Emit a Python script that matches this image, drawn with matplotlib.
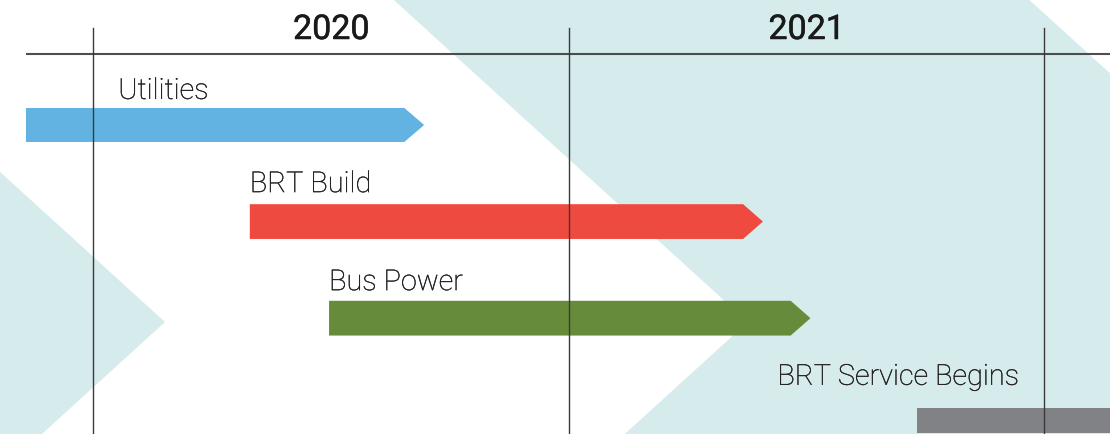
import matplotlib
matplotlib.use("Agg")
import matplotlib.pyplot as plt
import matplotlib.patheffects as pe
from matplotlib.patches import Polygon

# Timeline data (months counted from Jan 2020)
tasks = ["Utilities", "BRT Build", "Bus Power", "BRT Service Begins"]
task_start = [-1.7, 3.95, 5.95, 20.8]
task_end = [8.35, 16.9, 18.1, None]  # None = continues past the chart
task_colors = ["#62b3e2", "#ef4a3f", "#668c3b", "#818286"]
year_labels = ["2020", "2021"]
year_starts = [0, 12, 24]

# Background chevron bands: (left apex, right apex) in months
bands = [(-14.2, 1.81), (16.52, 32.56)]

# Layout
X_MIN, X_MAX = -2.355, 25.66
Y_TOP, Y_BOT = -1.304, 3.199
TIP = 0.5
BAR_H = [0.352, 0.36, 0.36, 0.264]
BAR_SHIFT = [0, 0, 0, 0.06]
SLOPE = 2.68  # months per row unit of the chevron edges
APEX_ROW = 2.04
TEXT = "#231f20"

fig = plt.figure(figsize=(11.1, 4.35), dpi=100)
ax = fig.add_axes([0, 0, 1, 1])
ax.set_xlim(X_MIN, X_MAX)
ax.set_ylim(Y_BOT, Y_TOP)
ax.axis("off")

# background chevrons
y0, y1 = Y_TOP - 0.2, Y_BOT + 0.2
for left, right in bands:
    pts = [
        (left - SLOPE * (APEX_ROW - y0), y0),
        (left, APEX_ROW),
        (left - SLOPE * (y1 - APEX_ROW), y1),
        (right - SLOPE * (y1 - APEX_ROW), y1),
        (right, APEX_ROW),
        (right - SLOPE * (APEX_ROW - y0), y0),
    ]
    ax.add_patch(Polygon(pts, closed=True, facecolor="#d5ebec", edgecolor="none", zorder=0))

# task arrows
for i, (name, s, e, c) in enumerate(zip(tasks, task_start, task_end, task_colors)):
    yc = i + BAR_SHIFT[i]
    h = BAR_H[i] / 2
    if e is None:
        pts = [(s, yc - h), (X_MAX + 1, yc - h), (X_MAX + 1, yc + h), (s, yc + h)]
    else:
        pts = [(s, yc - h), (e - TIP, yc - h), (e, yc), (e - TIP, yc + h), (s, yc + h)]
    ax.add_patch(Polygon(pts, closed=True, facecolor=c, edgecolor="none", zorder=2))

# task labels
label_kw = dict(fontsize=20.8, color=TEXT, family=["Roboto", "DejaVu Sans"],
                fontweight="light", va="baseline", zorder=4,
                path_effects=[pe.withStroke(linewidth=0.2, foreground=TEXT)])
ax.text(0.63, -0.27, tasks[0], ha="left", **label_kw)
ax.text(task_start[1], 1 - 0.305, tasks[1], ha="left", **label_kw)
ax.text(task_start[2], 2 - 0.29, tasks[2], ha="left", **label_kw)
ax.text(24 - 0.63, 3 - 0.31, tasks[3], ha="right", **label_kw)

# grid lines
ax.plot([task_start[0], X_MAX + 1], [-0.732, -0.732], color="#4d4d4d", lw=1.5, zorder=3,
        solid_capstyle="butt")
for m in year_starts:
    ax.plot([m, m], [-1.004, Y_BOT + 0.1], color="#3a3a3a", lw=1.0, zorder=3)

# year labels (regular + thin stroke ~ medium weight)
for k, yl in enumerate(year_labels):
    ax.text((year_starts[k] + year_starts[k + 1]) / 2, -0.89, yl, ha="center", va="baseline",
            fontsize=24.5, fontweight="normal", color="#1a1a1a",
            family=["Roboto", "DejaVu Sans"], zorder=4,
            path_effects=[pe.withStroke(linewidth=0.35, foreground="#1a1a1a")])

fig.savefig("out.png", dpi=100)
